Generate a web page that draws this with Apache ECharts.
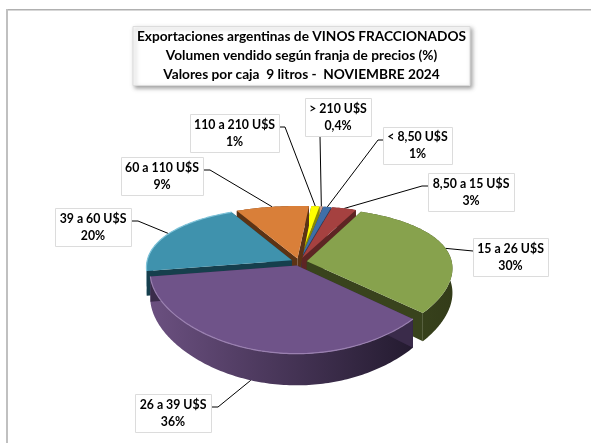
<!DOCTYPE html>
<html>
<head>
<meta charset="utf-8">
<style>
    html, body { margin: 0; padding: 0; background: #fff; }
    #chart { width: 591px; height: 443px; }
</style>
<script src="https://cdn.jsdelivr.net/npm/echarts@6/dist/echarts.min.js"></script>
</head>
<body>
<div id="chart"></div>
<script>
// datos, en sentido horario
const categories = ['< 8,50 U$S', '8,50 a 15 U$S', '15 a 26 U$S', '26 a 39 U$S', '39 a 60 U$S', '60 a 110 U$S', '110 a 210 U$S', '> 210 U$S'];
const shares = [1, 3, 30, 36, 20, 9, 1, 0.4];
const shareLabels = ['1%', '3%', '30%', '36%', '20%', '9%', '1%', '0,4%'];
const titleLines = [
    'Exportaciones argentinas de VINOS FRACCIONADOS',
    'Volumen vendido según franja de precios (%)',
    'Valores por caja  9 litros -  NOVIEMBRE 2024'
];

// colores por porcion
const topColors = ['#3f6fa8', '#a54140', '#87a24d', '#6f5389', '#3f92ad', '#d97f39', '#ffff00', '#c99a8c'];
const cutColors = ['#243f60', '#5e2524', '#39431d', '#3a2b4a', '#163f4d', '#5c3315', '#8a8a00', '#6e5048'];
const wallColors = [
    ['#2f5480', '#243f60'], ['#7a302f', '#5e2524'], ['#3f4a20', '#333c19'], ['#6b5080', '#241b30'],
    ['#2f6e83', '#163f4d'], ['#7a441c', '#5c3315'], ['#a8a800', '#8a8a00'], ['#8a6a60', '#6e5048']
];
const rimColors = [null, null, null, '#9a80b0', '#7fc4da', null, null, null];
// orden de pintado: de atras hacia adelante
const paintOrder = [7, 6, 0, 1, 5, 4, 2, 3];

// cajas de etiquetas: [x, y, ancho, alto]
const labelBoxes = [
    [383, 127, 69, 37], [428, 173, 86, 38], [473, 238, 75, 38], [135, 394, 76, 38],
    [55, 208, 76, 38], [121, 157, 82, 38], [190, 114, 89, 38], [305, 98, 66, 38]
];
// primeros puntos de cada linea guia
const leaderStarts = [
    [[383, 140], [378, 140]], [[428, 186], [422, 186]], [[473, 251], [473, 251]], [[212, 407], [218, 407]],
    [[132, 221], [138, 221]], [[204, 170], [210, 170]], [[280, 127], [285, 127]], [[320, 136], [320, 136]]
];

// geometria de la torta en perspectiva
const cx = 299, cy = 262, radiusX = 145, radiusY = 66, depth = 24, persp = 0.23, perspX = 0.1, explode = 0.055;
const startAngle = 10;
const total = shares.reduce((a, b) => a + b, 0);

function project(u, v, h) {
    const s = 1 / (1 - persp * v);
    const sx = 1 / (1 - perspX * v);
    return [cx + radiusX * u * sx, cy + radiusY * v * s + depth * h * s];
}

function sliceAngles(i) {
    let from = startAngle;
    for (let k = 0; k < i; k++) from += shares[k] / total * 360;
    return [from, from + shares[i] / total * 360];
}

function offsetOf(i) {
    const [a0, a1] = sliceAngles(i);
    const mid = (a0 + a1) / 2 * Math.PI / 180;
    return [explode * Math.sin(mid), -explode * Math.cos(mid)];
}

function arcPoints(i, h) {
    const [a0, a1] = sliceAngles(i);
    const [ou, ov] = offsetOf(i);
    const n = Math.max(3, Math.ceil(a1 - a0));
    const pts = [];
    for (let k = 0; k <= n; k++) {
        const a = (a0 + (a1 - a0) * k / n) * Math.PI / 180;
        pts.push(project(ou + Math.sin(a), ov - Math.cos(a), h));
    }
    return pts;
}

function renderSlice(params, api) {
    const i = params.dataIndex;
    const [ou, ov] = offsetOf(i);
    const top = arcPoints(i, 0);
    const low = arcPoints(i, 1);
    const apex = project(ou, ov, 0);
    const apexLow = project(ou, ov, 1);
    const last = top.length - 1;
    const layer = paintOrder.indexOf(i) * 10;
    const children = [
        {
            type: 'polygon', z2: layer, shape: { points: top.concat(low.slice().reverse()) },
            style: {
                fill: {
                    type: 'linear', x: 0, y: 0, x2: 1, y2: 0,
                    colorStops: [{ offset: 0, color: wallColors[i][0] }, { offset: 1, color: wallColors[i][1] }]
                }
            }
        },
        { type: 'polygon', z2: layer + 1, shape: { points: [apex, top[0], low[0], apexLow] }, style: { fill: cutColors[i] } },
        { type: 'polygon', z2: layer + 1, shape: { points: [apex, top[last], low[last], apexLow] }, style: { fill: cutColors[i] } },
        { type: 'polygon', z2: layer + 2, shape: { points: [apex].concat(top) }, style: { fill: topColors[i] } }
    ];
    if (rimColors[i]) {
        children.push({ type: 'polyline', z2: layer + 3, shape: { points: top }, style: { stroke: rimColors[i], lineWidth: 1.2, fill: null } });
    }
    return { type: 'group', children: children };
}

function renderLabel(params, api) {
    const i = params.dataIndex;
    const [a0, a1] = sliceAngles(i);
    const mid = (a0 + a1) / 2 * Math.PI / 180;
    const [ou, ov] = offsetOf(i);
    const h = Math.cos(mid) < 0 ? 1 : 0;
    const end = project(ou + Math.sin(mid), ov - Math.cos(mid), h);
    const box = labelBoxes[i];
    return {
        type: 'group',
        children: [
            { type: 'polyline', shape: { points: leaderStarts[i].concat([end]) }, style: { stroke: '#000', lineWidth: 1, fill: null } },
            { type: 'rect', shape: { x: box[0] + 0.5, y: box[1] + 0.5, width: box[2], height: box[3] }, style: { fill: '#fff', stroke: '#dcdcdc', lineWidth: 1 } },
            {
                type: 'text',
                style: {
                    x: box[0] + box[2] / 2, y: box[1] + box[3] / 2 + 0.5,
                    text: categories[i] + '\n' + shareLabels[i],
                    align: 'center', verticalAlign: 'middle',
                    fontFamily: 'Lato', fontWeight: 'bold', fontSize: 12.3, lineHeight: 17, fill: '#000'
                }
            }
        ]
    };
}

const chart = echarts.init(document.getElementById('chart'), null, { renderer: 'canvas' });
chart.setOption({
    animation: false,
    backgroundColor: '#fff',
    title: {
        text: titleLines.join('\n'),
        left: 297.5, top: 26, textAlign: 'center',
        padding: [1, 4, 1, 4],
        backgroundColor: '#fff', borderColor: '#dcdcdc', borderWidth: 1,
        shadowColor: 'rgba(0,0,0,0.35)', shadowBlur: 4, shadowOffsetX: 2, shadowOffsetY: 2,
        textStyle: { fontFamily: 'Lato', fontWeight: 'bold', fontSize: 13.7, lineHeight: 19.2, color: '#000', align: 'center' }
    },
    graphic: [
        { type: 'rect', shape: { x: 6, y: 9, width: 585, height: 1.5 }, style: { fill: '#b0b0b0' } },
        { type: 'rect', shape: { x: 6, y: 9, width: 2, height: 434 }, style: { fill: '#c0c0c0' } }
    ],
    series: [
        { type: 'custom', name: 'Volumen', coordinateSystem: 'none', renderItem: renderSlice, data: shares.map((v, i) => [v, i]), z: 2, silent: true },
        { type: 'custom', name: 'Etiquetas', coordinateSystem: 'none', renderItem: renderLabel, data: shares.map((v, i) => [v, i]), z: 1, silent: true }
    ]
});
</script>
</body>
</html>
